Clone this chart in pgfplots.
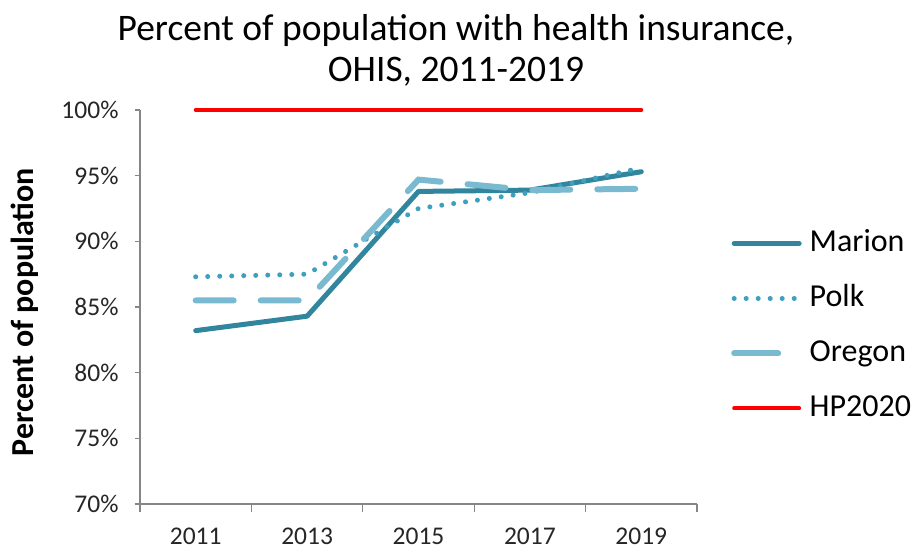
\documentclass[border=0pt]{standalone}
\usepackage{fontspec}
\setmainfont{Carlito}
\usepackage{pgfplots}
\pgfplotsset{compat=1.18}
\definecolor{marion}{RGB}{49,133,156}
\definecolor{polk}{RGB}{62,160,190}
\definecolor{oregon}{RGB}{122,186,208}
\definecolor{axisgray}{RGB}{134,134,134}
\pgfplotsset{oregonlegend/.style={legend image code/.code={\draw[##1, solid] (3bp,0bp) -- (47bp,0bp);}}}
\begin{document}
\begin{tikzpicture}
\useasboundingbox (0,0) rectangle (914bp,552bp);
\begin{axis}[
  at={(140bp,48bp)}, anchor=south west,
  width=557bp, height=394bp, scale only axis,
  xmin=-0.5, xmax=4.5, ymin=70, ymax=100,
  clip=false,
  axis x line*=bottom, axis y line*=left,
  axis line style={-, draw=axisgray, line width=1.3bp},
  xtick={0,1,2,3,4}, xticklabels={2011,2013,2015,2017,2019},
  minor xtick={-0.5,0.5,1.5,2.5,3.5,4.5},
  major x tick style={draw=none},
  minor x tick style={draw=axisgray, line width=1.3bp},
  ytick={70,75,80,85,90,95,100},
  y tick style={draw=axisgray, line width=1.3bp},
  tick align=outside,
  major tick length=5bp, minor tick length=8bp,
  /pgf/number format/assume math mode=true,
  yticklabel={\pgfmathprintnumber{\tick}\%},
  tick label style={font=\fontsize{25.5bp}{30bp}\selectfont, text=black!85},
  xticklabel style={yshift=-15bp},
  yticklabel style={xshift=-13bp},
  ylabel={\textbf{Percent of population}},
  every axis y label/.style={at={(axis description cs:-0.206,0.487)}, rotate=90, anchor=center, font=\fontsize{32bp}{38bp}\selectfont},
  legend style={at={(axis description cs:1.061,0.452)}, anchor=west, draw=none, fill=none,
    font=\fontsize{32bp}{38bp}\selectfont, row sep=27bp, column sep=8bp, inner sep=0pt,
    nodes={inner sep=0pt, text height=22bp, text depth=6bp}},
  legend cell align=left,
  legend image code/.code={\draw[#1] (3bp,0bp) -- (68bp,0bp);},
]
\addplot[marion, line width=5bp, line join=round, line cap=round] coordinates {(0,83.2) (1,84.3) (2,93.8) (3,93.9) (4,95.3)};
\addlegendentry{Marion}
\addplot[polk, line width=5bp, line cap=round, dash pattern=on 0.01bp off 12bp] coordinates {(0,87.3) (1,87.5) (2,92.5) (3,93.7) (4,95.6)};
\addlegendentry{Polk}
\addplot[oregon, line width=6bp, line cap=round, dash pattern=on 38bp off 27bp, oregonlegend] coordinates {(0,85.5) (1,85.5) (2,94.7) (3,93.9) (4,94.0)};
\addlegendentry{Oregon}
\addplot[red, line width=4bp, line cap=round] coordinates {(0,100) (1,100) (2,100) (3,100) (4,100)};
\addlegendentry{HP2020}
\end{axis}
\node[align=center, font=\fontsize{37.5bp}{41bp}\selectfont, text=black] at (456bp,502bp) {Percent of population with health insurance,\\OHIS, 2011-2019};
\end{tikzpicture}
\end{document}
